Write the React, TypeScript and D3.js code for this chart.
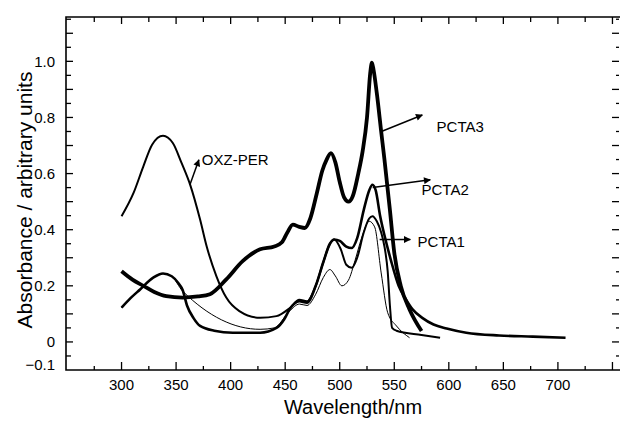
import React, { useEffect, useRef } from "react";
import * as d3 from "d3";

// wavelength (nm) / absorbance pairs
const oxzNm = [300, 311, 320, 328, 338, 347, 355, 363, 372, 378, 387, 396, 408, 427, 442, 454, 463, 470, 478, 485, 491, 495, 501, 506, 511, 516, 522, 527, 530, 534, 538, 541, 544, 546, 548, 552, 575, 592];
const oxzAbs = [0.448, 0.531, 0.626, 0.703, 0.735, 0.709, 0.638, 0.559, 0.436, 0.341, 0.234, 0.158, 0.11, 0.086, 0.092, 0.12, 0.15, 0.145, 0.2, 0.285, 0.35, 0.365, 0.33, 0.275, 0.264, 0.3, 0.39, 0.44, 0.448, 0.43, 0.39, 0.34, 0.25, 0.13, 0.05, 0.04, 0.025, 0.015];

const pcta2Nm = [300, 308, 317, 329, 338, 346, 352, 356, 360, 366, 372, 385, 402, 427, 442, 449, 454, 463, 470, 478, 485, 491, 495, 500, 506, 511, 516, 522, 527, 530, 533, 537, 541, 547, 554, 561, 567, 576, 586, 598, 616, 646, 677, 707];
const pcta2Abs = [0.122, 0.155, 0.187, 0.229, 0.244, 0.234, 0.21, 0.185, 0.13, 0.085, 0.057, 0.04, 0.033, 0.033, 0.05, 0.08, 0.116, 0.145, 0.14, 0.2, 0.285, 0.35, 0.365, 0.36, 0.34, 0.335, 0.37, 0.47, 0.54, 0.56, 0.54, 0.45, 0.38, 0.29, 0.2, 0.15, 0.115, 0.085, 0.062, 0.048, 0.033, 0.023, 0.019, 0.015];

const pcta1Nm = [300, 308, 317, 329, 338, 346, 356, 427, 440, 454, 463, 470, 478, 485, 491, 496, 502, 508, 514, 520, 527, 532, 538, 544, 552, 564];
const pcta1Abs = [0.122, 0.155, 0.187, 0.229, 0.244, 0.234, 0.181, 0.045, 0.05, 0.11, 0.135, 0.13, 0.17, 0.23, 0.258, 0.235, 0.2, 0.22, 0.29, 0.37, 0.43, 0.41, 0.246, 0.104, 0.057, 0.015];

const pcta3Nm = [300, 310, 320, 330, 341, 356, 370, 381, 396, 411, 427, 440, 447, 452, 457, 463, 468, 473, 479, 484, 488, 492, 496, 500, 504, 508, 512, 517, 521, 525, 528, 529.5, 531, 534, 538, 541, 546, 550, 556, 564, 575];
const pcta3Abs = [0.252, 0.222, 0.2, 0.178, 0.163, 0.158, 0.162, 0.17, 0.223, 0.288, 0.33, 0.34, 0.355, 0.39, 0.418, 0.41, 0.406, 0.44, 0.53, 0.61, 0.65, 0.673, 0.64, 0.57, 0.515, 0.5, 0.52, 0.6, 0.68, 0.8, 0.96, 0.995, 0.97, 0.886, 0.75, 0.65, 0.47, 0.318, 0.199, 0.116, 0.039];

const xTickLabels = [300, 350, 400, 450, 500, 550, 600, 650, 700];
const yTickLabels = [-0.1, 0, 0.2, 0.4, 0.6, 0.8, 1.0];

// label name, arrow tail [nm, abs], arrow head [nm, abs], text anchor [nm, abs]
const labelNames = ["OXZ-PER", "PCTA3", "PCTA2", "PCTA1"];
const arrowFrom = [[362.6, 0.559], [538.2, 0.75], [530.2, 0.55], [536.6, 0.365]];
const arrowTo = [[370.9, 0.649], [575.7, 0.809], [583, 0.578], [564.7, 0.365]];
const labelAt = [[373.6, 0.632], [588.8, 0.749], [575, 0.525], [571.4, 0.34]];

const W = 620;
const H = 421;
const font = "'Liberation Sans', Arial, sans-serif";

const App = () => {
  const svgRef = useRef<SVGSVGElement | null>(null);

  useEffect(() => {
    const svg = d3.select(svgRef.current);
    svg.selectAll("*").remove();

    const x = d3.scaleLinear().domain([250, 756]).range([67, 619]);
    const y = d3.scaleLinear().domain([-0.1, 1.158]).range([370, 17]);

    // frame
    svg.append("path")
      .attr("d", `M${W},17H66V370H${W}`)
      .attr("fill", "none")
      .attr("stroke", "#000")
      .attr("stroke-width", 1.6);

    // bottom ticks (inward)
    const bottomTicks = d3.range(275, 751, 25);
    svg.append("g").selectAll("line").data(bottomTicks).join("line")
      .attr("x1", (d) => x(d)).attr("x2", (d) => x(d))
      .attr("y1", 370).attr("y2", (d) => (d % 50 === 0 ? 362 : 366))
      .attr("stroke", "#000").attr("stroke-width", 1.3);

    // top ticks
    svg.append("g").selectAll("line").data(bottomTicks).join("line")
      .attr("x1", (d) => x(d)).attr("x2", (d) => x(d))
      .attr("y1", 17).attr("y2", (d) => (d % 50 === 0 ? 24 : 22))
      .attr("stroke", "#000").attr("stroke-width", 1.3);

    // left / right ticks every 0.05
    const yTicks = d3.range(-1, 24).map((k) => k * 0.05);
    svg.append("g").selectAll("line").data(yTicks).join("line")
      .attr("x1", 66).attr("x2", (d, i) => (i % 2 === 1 ? 73 : 71))
      .attr("y1", (d) => y(d)).attr("y2", (d) => y(d))
      .attr("stroke", "#000").attr("stroke-width", 1.3);
    svg.append("g").selectAll("line").data(yTicks).join("line")
      .attr("x1", 619).attr("x2", (d, i) => (i % 2 === 1 ? 612 : 616))
      .attr("y1", (d) => y(d)).attr("y2", (d) => y(d))
      .attr("stroke", "#000").attr("stroke-width", 1.3);

    // tick labels
    svg.append("g").selectAll("text").data(xTickLabels).join("text")
      .attr("x", (d) => x(d)).attr("y", 390)
      .attr("text-anchor", "middle")
      .attr("font-family", font).attr("font-size", 15)
      .text((d) => d);

    svg.append("g").selectAll("text").data(yTickLabels).join("text")
      .attr("x", 55).attr("y", (d) => y(d) + (d < 0 ? -5 : 0))
      .attr("dy", "0.35em")
      .attr("text-anchor", "end")
      .attr("font-family", font).attr("font-size", 15)
      .text((d) => (d === 0 ? "0" : d3.format(".1f")(d)));

    // axis titles
    svg.append("text")
      .attr("x", 353).attr("y", 414)
      .attr("text-anchor", "middle")
      .attr("font-family", font).attr("font-size", 20)
      .text("Wavelength/nm");
    svg.append("text")
      .attr("transform", "translate(32,200) rotate(-90)")
      .attr("text-anchor", "middle")
      .attr("font-family", font).attr("font-size", 21)
      .text("Absorbance / arbitrary units");

    const line = d3.line<[number, number]>()
      .x((d) => x(d[0]))
      .y((d) => y(d[1]))
      .curve(d3.curveMonotoneX);

    const series: [number[], number[], number][] = [
      [pcta1Nm, pcta1Abs, 1],
      [oxzNm, oxzAbs, 2],
      [pcta2Nm, pcta2Abs, 2.6],
      [pcta3Nm, pcta3Abs, 3.8],
    ];
    series.forEach(([nm, abs, w]) => {
      svg.append("path")
        .datum(nm.map((n, i) => [n, abs[i]] as [number, number]))
        .attr("fill", "none")
        .attr("stroke", "#000")
        .attr("stroke-width", w)
        .attr("stroke-linejoin", "round")
        .attr("d", line);
    });

    // arrows + labels
    svg.append("defs").append("marker")
      .attr("id", "head")
      .attr("viewBox", "0 0 10 10")
      .attr("refX", 9).attr("refY", 5)
      .attr("markerWidth", 9).attr("markerHeight", 7)
      .attr("markerUnits", "userSpaceOnUse")
      .attr("orient", "auto")
      .append("path")
      .attr("d", "M0,0L10,5L0,10Z")
      .attr("fill", "#000");

    labelNames.forEach((name, i) => {
      svg.append("line")
        .attr("x1", x(arrowFrom[i][0])).attr("y1", y(arrowFrom[i][1]))
        .attr("x2", x(arrowTo[i][0])).attr("y2", y(arrowTo[i][1]))
        .attr("stroke", "#000").attr("stroke-width", 1.5)
        .attr("marker-end", "url(#head)");
      svg.append("text")
        .attr("x", x(labelAt[i][0])).attr("y", y(labelAt[i][1]))
        .attr("font-family", font).attr("font-size", 15)
        .text(name);
    });
  }, []);

  return (
    <svg
      ref={svgRef}
      width={W}
      height={H}
      style={{ position: "absolute", left: 0, top: 0, background: "#fff" }}
    />
  );
};

export default App;
